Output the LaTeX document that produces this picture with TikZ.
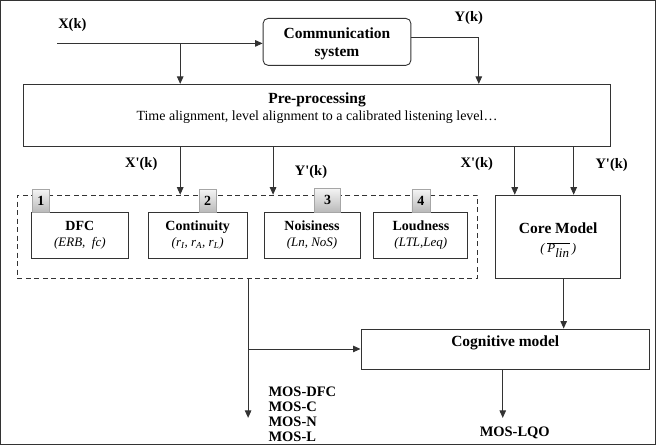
\documentclass[tikz,border=0pt]{standalone}
\usepackage{fontspec}
\setmainfont{Liberation Serif}
\usetikzlibrary{arrows.meta}
\begin{document}
\begin{tikzpicture}[x=1pt,y=-1pt,
  line width=0.9pt,
  every path/.style={draw=black!80},
  arr/.style={-{Triangle[length=7.5pt,width=6.5pt]}},
  box/.style={draw=black!80,line width=0.9pt,inner sep=0pt},
  lbl/.style={font=\bfseries\fontsize{14.5}{15}\selectfont,inner sep=0pt},
  head/.style={font=\bfseries\fontsize{15.5}{18}\selectfont,inner sep=0pt},
  txt/.style={font=\fontsize{14}{16}\selectfont,inner sep=0pt},
  sub/.style={box,align=center,font=\fontsize{13}{16}\selectfont},
  tab/.style={draw=gray!70,line width=0.5pt,top color=gray!8,bottom color=gray!55,inner sep=0pt,font=\bfseries\fontsize{14}{14}\selectfont}
]
\useasboundingbox (0,0) rectangle (656,445);

% communication system
\node[box,rounded corners=5pt,minimum width=148pt,minimum height=47pt] (comm) at (337,41.5) {};
\node[head,align=center] (commt) at (337,43) {Communication\\system};

% preprocessing
\node[box,minimum width=588pt,minimum height=62pt] (pre) at (317,115) {};
\node[head] (pret) at (317,100) {Pre-processing};
\node[txt] (pres) at (317,117) {Time alignment, level alignment to a calibrated listening level…};

% inputs
\coordinate (xin) at (57,43);
\coordinate (xbr) at (180,43);
\coordinate (yout) at (411,37);
\coordinate (ycor) at (479,37);
\node[lbl] (xk) at (72,25) {X(k)};
\node[lbl] (yk) at (469,18) {Y(k)};
\draw[arr] (xin) -- (comm.west|-xin);
\draw[arr] (xbr) -- (xbr|-pre.north);
\draw[arr] (yout) -- (ycor) -- (ycor|-pre.north);

% dashed group
\node[draw=black!80,dash pattern=on 5pt off 3.5pt,line width=0.9pt,minimum width=461pt,minimum height=83pt,inner sep=0pt] (grp) at (247.5,236.5) {};

\node[sub,minimum width=97pt,minimum height=46pt] (dfc) at (79.5,235) {{\bfseries\fontsize{14}{16}\selectfont DFC}\\\textit{(ERB,\ \ fc)}};
\node[sub,minimum width=99pt,minimum height=46pt] (cont) at (197.5,235) {{\bfseries\fontsize{14}{16}\selectfont Continuity}\\\textit{(r\textsubscript{I}, r\textsubscript{A}, r\textsubscript{L})}};
\node[sub,minimum width=96pt,minimum height=46pt] (nois) at (312,235) {{\bfseries\fontsize{14}{16}\selectfont Noisiness}\\\textit{(Ln, NoS)}};
\node[sub,minimum width=94pt,minimum height=46pt] (loud) at (421,235) {{\bfseries\fontsize{14}{16}\selectfont Loudness}\\\textit{(LTL,Leq)}};

\node[tab,minimum width=17pt,minimum height=23pt] (t1) at (40.5,200.5) {1};
\node[tab,minimum width=17pt,minimum height=23pt] (t2) at (207.5,200.5) {2};
\node[tab,minimum width=26pt,minimum height=24pt] (t3) at (327.5,200) {3};
\node[tab,minimum width=18pt,minimum height=23pt] (t4) at (421,200.5) {4};

% arrows from preprocessing
\coordinate (a1) at (180,146);
\coordinate (a2) at (273,146);
\coordinate (a3) at (515,146);
\coordinate (a4) at (574,146);
\draw[arr] (a1) -- (a1|-grp.north);
\draw[arr] (a2) -- (a2|-grp.north);
\node[lbl] (xk1) at (141,164) {X\textquotesingle(k)};
\node[lbl] (yk1) at (311,172) {Y\textquotesingle(k)};
\node[lbl] (xk2) at (477,164) {X\textquotesingle(k)};
\node[lbl] (yk2) at (612,165) {Y\textquotesingle(k)};

% core model
\node[box,minimum width=125pt,minimum height=83pt] (core) at (558.5,236.5) {};
\node[head] (coret) at (558.5,228) {Core Model};
\node[inner sep=0pt,font=\fontsize{13}{14}\selectfont] (corep) at (558.5,250) {\textit{(}\,$\overline{\textit{P}_{\textit{lin}}}$\,\textit{)}};
\draw[arr] (a3) -- (a3|-core.north);
\draw[arr] (a4) -- (a4|-core.north);

% cognitive model
\node[box,minimum width=289pt,minimum height=41pt] (cog) at (505.5,349.5) {};
\node[head] (cogt) at (505.5,343) {Cognitive model};
\coordinate (cm) at (564,278);
\draw[arr] (cm) -- (cm|-cog.north);

% outputs
\coordinate (g1) at (248,278);
\coordinate (g2) at (248,418);
\coordinate (g3) at (248,349);
\draw[arr] (g1) -- (g2);
\draw[arr] (g3) -- (cog.west|-g3);
\coordinate (c1) at (503,370);
\coordinate (c2) at (503,418);
\draw[arr] (c1) -- (c2);

\node[lbl,anchor=west] (m1) at (268,392) {MOS-DFC};
\node[lbl,anchor=west] (m2) at (268,407) {MOS-C};
\node[lbl,anchor=west] (m3) at (268,422) {MOS-N};
\node[lbl,anchor=west] (m4) at (268,437) {MOS-L};
\node[lbl] (lqo) at (515,433) {MOS-LQO};
\end{tikzpicture}
\end{document}
